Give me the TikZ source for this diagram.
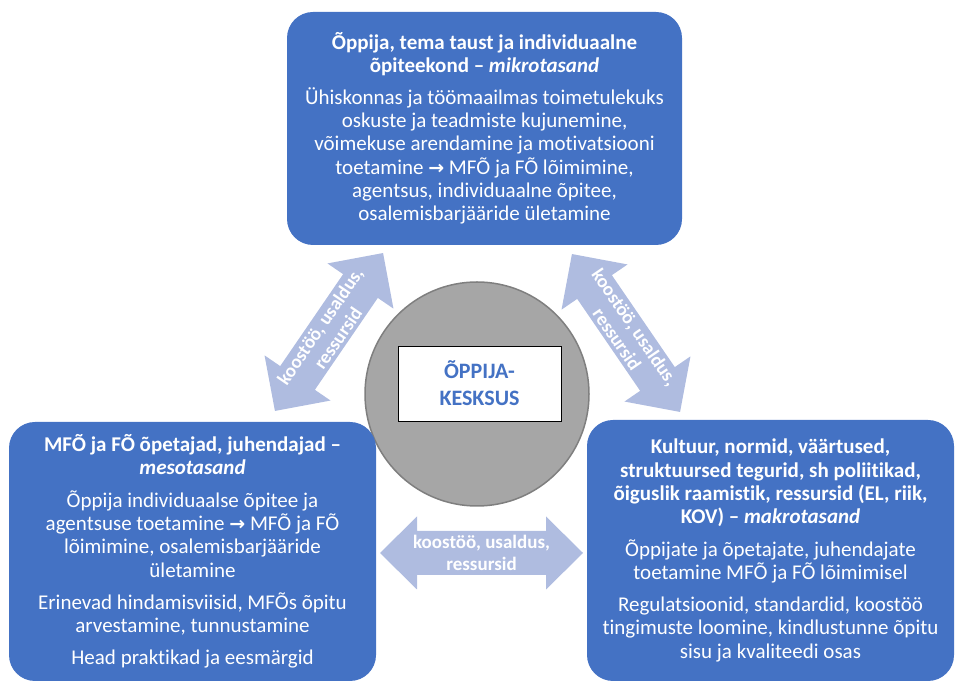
\documentclass[tikz,border=0pt]{standalone}
\usepackage{fontspec}
\setmainfont{Carlito}[Ligatures=NoCommon]
\newfontfamily\symfont{DejaVu Sans}
\definecolor{boxblue}{HTML}{4472C4}
\definecolor{arrowblue}{HTML}{AFBCE0}
\definecolor{circlegray}{HTML}{A6A6A6}
\definecolor{circleedge}{HTML}{7F7F7F}
\newcommand{\rarr}{{\symfont\bfseries\fontsize{19}{20}\selectfont →}}
\begin{document}
\begin{tikzpicture}[x=1pt,y=1pt,
  levelbox/.style 2 args={fill=boxblue, rounded corners=26pt, minimum width=#1pt, minimum height=#2pt,
    text=white, align=center, inner sep=0pt, font=\fontsize{21}{23.3}\selectfont},
  arrowtext/.style={text=white, align=center, inner sep=0pt, font=\bfseries\fontsize{19}{21.5}\selectfont},
  pics/dblarrow/.style n args={4}{code={
    \fill[arrowblue] (-#1,0) -- (-#1+#2,#3) -- (-#1+#2,#4) -- (#1-#2,#4) -- (#1-#2,#3) -- (#1,0)
      -- (#1-#2,-#3) -- (#1-#2,-#4) -- (-#1+#2,-#4) -- (-#1+#2,-#3) -- cycle;
  }}
]
\useasboundingbox (0,0) rectangle (955,682);
% hub
\node[circle, fill=circlegray, draw=circleedge, line width=1.5pt, minimum size=224pt, inner sep=0pt] (hub) at (477,288) {};
\node[draw=black, line width=0.8pt, fill=white, minimum width=163pt, minimum height=75pt, inner sep=0pt,
  align=center, text=boxblue, font=\bfseries\fontsize{22}{27}\selectfont] (core) at (479.5,298.5) {ÕPPIJA-\\KESKSUS};
% arrows
\pic[rotate=55.6] at (329,350) {dblarrow={95.7}{40}{40}{21}};
\node[arrowtext, rotate=55.6] (tl) at (329,350) {koostöö, usaldus,\\ressursid};
\pic[rotate=-55.6] at (626,349) {dblarrow={95.7}{40}{40}{21}};
\node[arrowtext, rotate=-55.6] (tr) at (626,349) {koostöö, usaldus,\\ressursid};
\pic at (481.5,129) {dblarrow={101.5}{37}{36.5}{22}};
\node[arrowtext] (tb) at (481.5,129) {koostöö, usaldus,\\ressursid};
% level boxes
\node[levelbox={395}{233}] (micro) at (484.5,553.5) {%
  \textbf{Õppija, tema taust ja individuaalne}\\
  \textbf{õpiteekond – \textit{mikrotasand}}\\[8pt]
  Ühiskonnas ja töömaailmas toimetulekuks\\
  oskuste ja teadmiste kujunemine,\\
  võimekuse arendamine ja motivatsiooni\\
  toetamine \rarr{} MFÕ ja FÕ lõimimine,\\
  agentsus, individuaalne õpitee,\\
  osalemisbarjääride ületamine};
\node[levelbox={367}{259}] (meso) at (192.5,130.5) {%
  \textbf{MFÕ ja FÕ õpetajad, juhendajad –}\\
  \textbf{\textit{mesotasand}}\\[9pt]
  Õppija individuaalse õpitee ja\\
  agentsuse toetamine \rarr{} MFÕ ja FÕ\\
  lõimimine, osalemisbarjääride\\
  ületamine\\[9pt]
  Erinevad hindamisviisid, MFÕs õpitu\\
  arvestamine, tunnustamine\\[9pt]
  Head praktikad ja eesmärgid};
\node[levelbox={367}{261}] (macro) at (770.5,131.5) {%
  \textbf{Kultuur, normid, väärtused,}\\
  \textbf{struktuursed tegurid, sh poliitikad,}\\
  \textbf{õiguslik raamistik, ressursid (EL, riik,}\\
  \textbf{KOV) – \textit{makrotasand}}\\[9pt]
  Õppijate ja õpetajate, juhendajate\\
  toetamine MFÕ ja FÕ lõimimisel\\[9pt]
  Regulatsioonid, standardid, koostöö\\
  tingimuste loomine, kindlustunne õpitu\\
  sisu ja kvaliteedi osas};
\end{tikzpicture}
\end{document}
